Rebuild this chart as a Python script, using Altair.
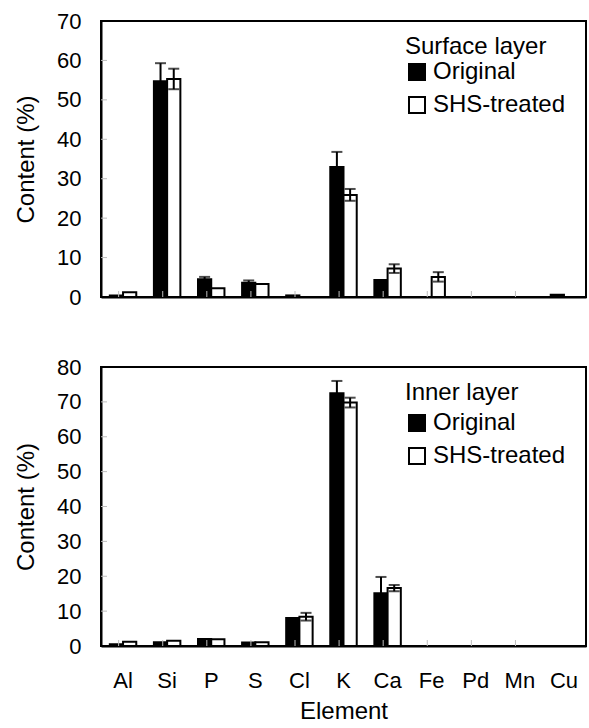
import altair as alt
import pandas as pd

elements = ["Al", "Si", "P", "S", "Cl", "K", "Ca", "Fe", "Pd", "Mn", "Cu"]
groups = ["Original", "SHS-treated"]

surface_original = [0.4, 54.7, 4.5, 3.6, 0.4, 33.0, 4.3, 0.0, 0.0, 0.0, 0.6]
surface_original_err = [0, 4.6, 0.6, 0.6, 0, 3.8, 0, 0, 0, 0, 0]
surface_treated = [1.2, 55.3, 2.2, 3.3, 0.0, 25.9, 7.2, 5.1, 0.0, 0.0, 0.0]
surface_treated_err = [0, 2.6, 0, 0, 0, 1.5, 1.1, 1.2, 0, 0, 0]

inner_original = [0.5, 1.1, 2.0, 1.0, 8.0, 72.5, 15.1, 0.0, 0.0, 0.0, 0.0]
inner_original_err = [0, 0, 0, 0, 0, 3.5, 4.7, 0, 0, 0, 0]
inner_treated = [1.2, 1.5, 1.9, 1.1, 8.4, 69.8, 16.6, 0.0, 0.0, 0.0, 0.0]
inner_treated_err = [0, 0, 0, 0, 1.1, 1.4, 0.9, 0, 0, 0, 0]

surface_yticks = [0, 10, 20, 30, 40, 50, 60, 70]
inner_yticks = [0, 10, 20, 30, 40, 50, 60, 70, 80]

FONT = "Liberation Sans"
W = 485
STEP = W / len(elements)


def panel(orig, orig_err, treat, treat_err, yticks, legend_title, show_x, H, legend_y, legend_tpad):
    rows = []
    for i, el in enumerate(elements):
        rows.append({"Element": el, "Group": groups[0], "v": orig[i], "e": orig_err[i]})
        rows.append({"Element": el, "Group": groups[1], "v": treat[i], "e": treat_err[i]})
    df = pd.DataFrame(rows)
    bars_df = df[df["v"] > 0].copy()
    err_df = df[df["e"] > 0].copy()
    err_df["lo"] = err_df["v"] - err_df["e"]
    err_df["hi"] = err_df["v"] + err_df["e"]

    ymax = yticks[-1]
    yscale = alt.Scale(domain=[0, ymax], nice=False, zero=True)
    xscale = alt.Scale(domain=elements, paddingInner=0.4, paddingOuter=0.2)
    if show_x:
        xaxis = alt.Axis(title="Element", labelAngle=0, labelFontSize=22, titleFontSize=24,
                         titleFontWeight="normal", labelPadding=24, titlePadding=8,
                         ticks=False, domainColor="black", domainWidth=2, labelOverlap=False,
                         labelColor="black", titleColor="black")
    else:
        xaxis = alt.Axis(title=None, labels=False, ticks=False, domainColor="black", domainWidth=2)
    yaxis = alt.Axis(title="Content (%)", values=yticks, tickCount=len(yticks),
                     labelFontSize=22, titleFontSize=24,
                     titleFontWeight="normal", ticks=False, grid=False, labelPadding=20,
                     titlePadding=18, domainColor="black", domainWidth=2, labelOverlap=False,
                     labelColor="black", titleColor="black")

    x = alt.X("Element:N", sort=elements, scale=xscale, axis=xaxis)
    xo = alt.XOffset("Group:N", sort=groups,
                     scale=alt.Scale(domain=groups, paddingInner=0, paddingOuter=0))

    bars = alt.Chart(bars_df).mark_bar(stroke="black", strokeWidth=2).encode(
        x=x,
        xOffset=xo,
        y=alt.Y("v:Q", scale=yscale, axis=yaxis),
        fill=alt.Fill("Group:N", sort=groups,
                      scale=alt.Scale(domain=groups, range=["black", "white"]),
                      legend=alt.Legend(title=legend_title, orient="none", legendX=304,
                                        legendY=legend_y, symbolType="square", symbolSize=256,
                                        symbolStrokeColor="black", symbolStrokeWidth=2,
                                        labelFontSize=24, titleFontSize=24,
                                        titleFontWeight="normal", titlePadding=legend_tpad,
                                        rowPadding=9, labelOffset=4, padding=0,
                                        labelColor="black", titleColor="black")),
    )

    rules = alt.Chart(err_df).mark_rule(color="black", strokeWidth=2).encode(
        x=x, xOffset=xo, y=alt.Y("lo:Q", scale=yscale, axis=yaxis), y2="hi:Q")
    caps_hi = alt.Chart(err_df).mark_tick(color="black", thickness=2, size=11,
                                          orient="horizontal").encode(
        x=x, xOffset=xo, y=alt.Y("hi:Q", scale=yscale, axis=yaxis))
    caps_lo = alt.Chart(err_df).mark_tick(color="black", thickness=2, size=11,
                                          orient="horizontal").encode(
        x=x, xOffset=xo, y=alt.Y("lo:Q", scale=yscale, axis=yaxis))

    ytick_df = pd.DataFrame({"t": yticks[1:-1]})
    yinner = alt.Chart(ytick_df).mark_rule(color="#bdbdbd", strokeWidth=1).encode(
        y=alt.Y("t:Q", scale=yscale, axis=yaxis), x=alt.value(0), x2=alt.value(6))

    xtick_df = pd.DataFrame({"Element": elements[:-1]})
    xinner = alt.Chart(xtick_df).mark_rule(color="#bdbdbd", strokeWidth=1).encode(
        x=alt.X("Element:N", sort=elements, scale=xscale, axis=xaxis, bandPosition=1),
        xOffset=alt.value(STEP * 0.2),
        y=alt.value(H), y2=alt.value(H - 6))

    return alt.layer(bars, yinner, xinner, rules, caps_hi, caps_lo).properties(width=W, height=H)


top = panel(surface_original, surface_original_err, surface_treated, surface_treated_err,
            surface_yticks, "Surface layer", False, 276, 14, 1)
bottom = panel(inner_original, inner_original_err, inner_treated, inner_treated_err,
               inner_yticks, "Inner layer", True, 279, 14, 6)

chart = alt.vconcat(top, bottom, spacing=70, bounds="flush").resolve_scale(
    fill="independent", x="independent", y="independent"
).resolve_legend(fill="independent").properties(
    padding={"left": 13, "top": 9, "right": 2, "bottom": 0}
).configure(font=FONT).configure_view(stroke="black", strokeWidth=2)

chart.save("out.html", embed_options={"renderer": "svg", "actions": False})
